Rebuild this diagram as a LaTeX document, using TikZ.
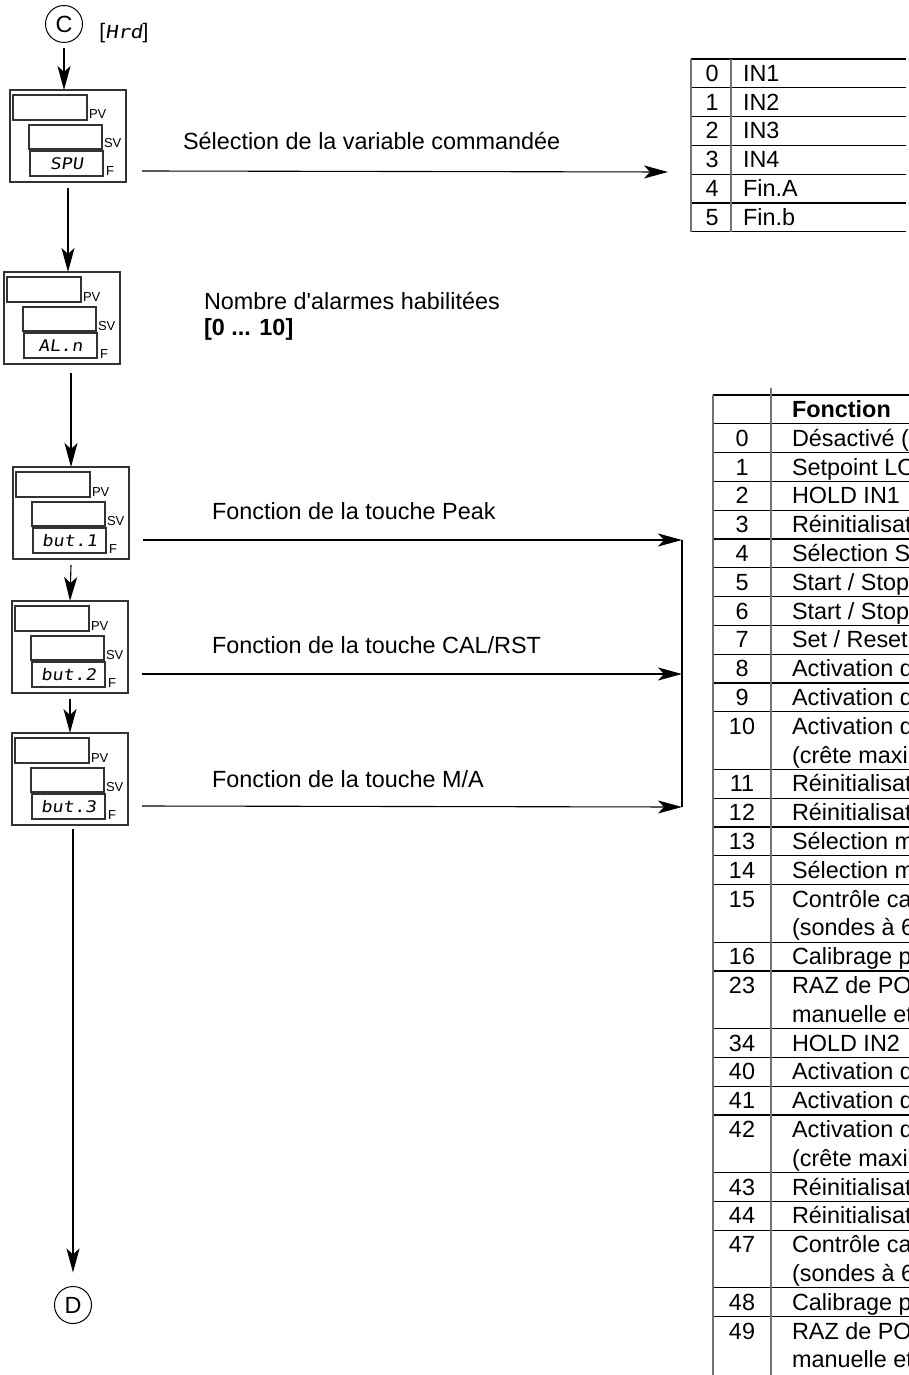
\documentclass[tikz,border=0pt]{standalone}
\usepackage{fontspec}
\setmainfont{Liberation Sans}
\newfontfamily\segfont[FakeSlant=0.15,FakeStretch=1.15]{DejaVu Sans Mono}
\usetikzlibrary{arrows.meta,calc}

\tikzset{
 every node/.style={inner sep=0pt, outer sep=0pt},
 lbl/.style={font=\fontsize{11.7}{14}\selectfont, anchor=base west},
 lblb/.style={font=\bfseries\fontsize{11.7}{14}\selectfont, anchor=base west},
 circ/.style={circle, draw, line width=0.5pt, minimum size=18.5pt, font=\fontsize{11.7}{14}\selectfont},
 outerbox/.style={draw=black!80, line width=0.7pt, minimum width=58pt, minimum height=46pt},
 innerbox/.style={draw=black!80, line width=0.6pt},
 tag/.style={font=\fontsize{6.5}{7}\selectfont, anchor=base west},
 segtxt/.style={font=\segfont\fontsize{8}{9}\selectfont},
 arr/.style={line width=0.55pt, -{Stealth[length=12pt, width=6.5pt, inset=3pt]}},
 conn/.style={line width=0.55pt},
 tline/.style={line width=0.6pt},
 tgray/.style={line width=0.8pt, draw=black!55},
 cell/.style={font=\fontsize{11.7}{14}\selectfont, anchor=base},
 celltxt/.style={font=\fontsize{11.7}{14}\selectfont, anchor=base west},
}

\newcommand\dispbox[4]{%
 \node[outerbox] (#1) at ({#2+58},{#3+46}) {};
 \node[innerbox, minimum width=37pt, minimum height=12.5pt] (#1pv) at ({#2+40},{#3+17.5}) {};
 \node[innerbox, minimum width=36.5pt, minimum height=12pt] (#1sv) at ({#2+55.5},{#3+47}) {};
 \node[innerbox, minimum width=36.5pt, minimum height=12.5pt, segtxt] (#1f) at ({#2+56.5},{#3+73.5}) {#4};
 \node[tag] (#1pvl) at ({#2+79},{#3+29}) {PV};
 \node[tag] (#1svl) at ({#2+94},{#3+58}) {SV};
 \node[tag] (#1fl) at ({#2+96},{#3+86}) {F};
}
\newcommand\brow[3]{%
 \node[cell] (bn#2) at (742,{395+28.8*(#1+0.5)+8}) {#2};
 \node[celltxt] (bt#2) at (792,{395+28.8*(#1+0.5)+8}) {#3};
}
\newcommand\bcont[3]{%
 \node[celltxt] (bc#2) at (792,{395+28.8*(#1+0.5)+8}) {#3};
}
\newcommand\srow[3]{%
 \node[cell] (sn#2) at (712,{59+28.8*(#1+0.5)+8}) {#2};
 \node[celltxt] (st#2) at (743,{59+28.8*(#1+0.5)+8}) {#3};
}

\begin{document}
\begin{tikzpicture}[x=0.5pt,y=-0.5pt]
\useasboundingbox (0,0) rectangle (909,1375);
\begin{scope}
\clip (0,0) rectangle (909,1375);

% circles and header tag
\node[circ] (C) at (64,24) {C};
\node (hrd) at (124,33) {\fontsize{10.5}{12}\selectfont[{\segfont\fontsize{9}{10}\selectfont Hrd}]};
\node[circ] (D) at (73,1305) {D};

% displays
\dispbox{d1}{10}{90}{SPU}
\dispbox{d2}{4}{272}{AL.n}
\dispbox{d3}{13}{467}{but.1}
\dispbox{d4}{12}{601}{but.2}
\dispbox{d5}{12}{733}{but.3}

% vertical flow
\draw[arr] ($(C.south)+(0,6)$) -- (C.south |- d1.north);
\draw[arr] ($(d1.south)+(0,6)$) -- (d1.south |- d2.north);
\draw[arr] ($(d3.north |- d2.south)+(0,9)$) -- (d3.north);
\draw[arr] ($(d3.south)+(0,6)$) -- (d4.north);
\draw[arr] ($(d4.south)+(0,6)$) -- (d5.north);
\draw[arr] ($(D.north |- d5.south)+(0,4)$) -- ($(D.north)+(0,-14)$);

% horizontal connectors
\coordinate (t1) at (668,172);
\coordinate (j1) at (682,540);
\coordinate (j2) at (682,674);
\coordinate (j3) at (682,807);
\draw[arr] ($(d1.south east)+(16,-11)$) -- (t1);
\draw[arr] ($(d3.south east)+(14,-19)$) -- (j1);
\draw[arr] ($(d4.south east)+(14,-19)$) -- (j2);
\draw[arr] ($(d5.south east)+(14,-19)$) -- (j3);
\draw[conn] (j1) -- (j3);

% labels
\node[lbl] (l1) at (183,150) {Sélection de la variable commandée};
\node[lbl] (l2) at (204,309) {Nombre d\textquotesingle alarmes habilitées};
\node[lblb] (l3) at (204,335) {[0 ... 10]};
\node[lbl] (l4) at (212,519) {Fonction de la touche Peak};
\node[lbl] (l5) at (212,653) {Fonction de la touche CAL/RST};
\node[lbl] (l6) at (212,787) {Fonction de la touche M/A};

% small table
\foreach \k in {0,...,6} \draw[tline] (691,{59+28.8*\k}) -- (906,{59+28.8*\k});
\draw[tgray] (691,59) -- (691,231.8);
\draw[tgray] (731,59) -- (731,231.8);
\srow{0}{0}{IN1}
\srow{1}{1}{IN2}
\srow{2}{2}{IN3}
\srow{3}{3}{IN4}
\srow{4}{4}{Fin.A}
\srow{5}{5}{Fin.b}

% big table
\draw[tline] (713,395) -- (909,395);
\foreach \k in {1,...,11,13,14,15,16,17,19,20,22,23,24,25,27,28,29,31,32}
  \draw[tline] (713,{395+28.8*\k}) -- (909,{395+28.8*\k});
\draw[tgray] (713,395) -- (713,1375);
\draw[tgray] (771,388) -- (771,1375);
\node[celltxt, font=\bfseries\fontsize{11.7}{14}\selectfont] (bhead) at (792,{395+14.4+8}) {Fonction};
\brow{1}{0}{Désactivé (}
\brow{2}{1}{Setpoint LO}
\brow{3}{2}{HOLD IN1}
\brow{4}{3}{Réinitialisat}
\brow{5}{4}{Sélection S}
\brow{6}{5}{Start / Stop}
\brow{7}{6}{Start / Stop}
\brow{8}{7}{Set / Reset}
\brow{9}{8}{Activation d}
\brow{10}{9}{Activation d}
\brow{11}{10}{Activation d}
\bcont{12}{10}{(crête maxi}
\brow{13}{11}{Réinitialisat}
\brow{14}{12}{Réinitialisat}
\brow{15}{13}{Sélection m}
\brow{16}{14}{Sélection m}
\brow{17}{15}{Contrôle ca}
\bcont{18}{15}{(sondes à 6}
\brow{19}{16}{Calibrage p}
\brow{20}{23}{RAZ de PO}
\bcont{21}{23}{manuelle et}
\brow{22}{34}{HOLD IN2}
\brow{23}{40}{Activation d}
\brow{24}{41}{Activation d}
\brow{25}{42}{Activation d}
\bcont{26}{42}{(crête maxi}
\brow{27}{43}{Réinitialisat}
\brow{28}{44}{Réinitialisat}
\brow{29}{47}{Contrôle ca}
\bcont{30}{47}{(sondes à 6}
\brow{31}{48}{Calibrage p}
\brow{32}{49}{RAZ de PO}
\bcont{33}{49}{manuelle et}
\end{scope}
\end{tikzpicture}
\end{document}
